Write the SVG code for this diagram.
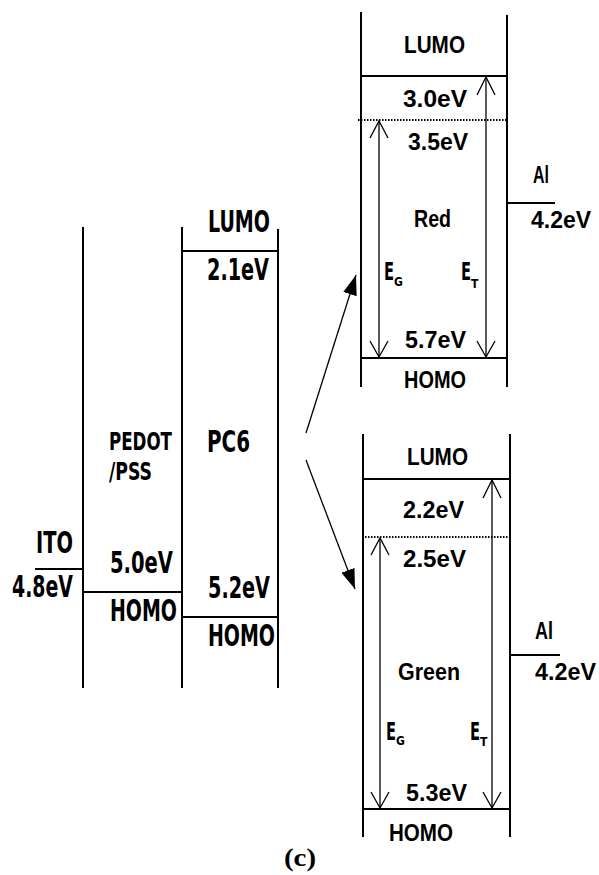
<svg xmlns="http://www.w3.org/2000/svg" width="599" height="875" viewBox="0 0 599 875">
<defs>
<style>
.ln{stroke:#000;stroke-width:2;fill:none}
.lv{stroke:#000;stroke-width:1.3;fill:none}
.dot{stroke:#000;stroke-width:2;stroke-dasharray:1.5 1.5;fill:none}
.tl{font-family:"Liberation Sans Narrow","DejaVu Sans Condensed","Liberation Sans",sans-serif;font-size:30px;font-weight:bold;fill:#000}
.tp{font-family:"Liberation Sans Narrow","DejaVu Sans Condensed","Liberation Sans",sans-serif;font-size:24px;font-weight:bold;fill:#000}
.tr{font-family:"Liberation Sans","DejaVu Sans",sans-serif;font-size:23px;font-weight:bold;fill:#000}
.te{font-family:"Liberation Sans Narrow","DejaVu Sans Condensed","Liberation Sans",sans-serif;font-size:24px;font-weight:bold;fill:#000}
.ts{font-family:"Liberation Sans Narrow","DejaVu Sans Condensed","Liberation Sans",sans-serif;font-size:12px;font-weight:bold;fill:#000}
.cap{font-family:"Liberation Serif",serif;font-size:25px;font-weight:bold;fill:#000}
</style>
<marker id="fa" viewBox="0 0 20 14" refX="20" refY="7" markerWidth="20" markerHeight="14" markerUnits="userSpaceOnUse" orient="auto">
<path d="M0,0 L20,7 L0,14 Z" fill="#000"/>
</marker>
</defs>

<g id="ito">
<line class="ln" x1="35" y1="569" x2="83" y2="569"/>
<text class="tl" x="36" y="553" textLength="37" lengthAdjust="spacingAndGlyphs">ITO</text>
<text class="tl" x="12" y="597" textLength="61" lengthAdjust="spacingAndGlyphs">4.8eV</text>
</g>

<g id="pedot">
<line class="ln" x1="83" y1="227" x2="83" y2="688"/>
<line class="ln" x1="182" y1="227" x2="182" y2="688"/>
<line class="ln" x1="83" y1="592" x2="182" y2="592"/>
<text class="tp" x="109" y="450" textLength="63" lengthAdjust="spacingAndGlyphs">PEDOT</text>
<text class="tp" x="109" y="480" textLength="43" lengthAdjust="spacingAndGlyphs">/PSS</text>
<text class="tl" x="110" y="573" textLength="63" lengthAdjust="spacingAndGlyphs">5.0eV</text>
<text class="tl" x="110" y="621" textLength="67" lengthAdjust="spacingAndGlyphs">HOMO</text>
</g>

<g id="pc6">
<line class="ln" x1="278" y1="229" x2="278" y2="688"/>
<line class="ln" x1="182" y1="251" x2="278" y2="251"/>
<line class="ln" x1="182" y1="617" x2="278" y2="617"/>
<text class="tl" x="208" y="232" textLength="62" lengthAdjust="spacingAndGlyphs">LUMO</text>
<text class="tl" x="207" y="280" textLength="62" lengthAdjust="spacingAndGlyphs">2.1eV</text>
<text class="tl" x="207" y="452" textLength="43" lengthAdjust="spacingAndGlyphs">PC6</text>
<text class="tl" x="208" y="598" textLength="62" lengthAdjust="spacingAndGlyphs">5.2eV</text>
<text class="tl" x="208" y="646" textLength="67" lengthAdjust="spacingAndGlyphs">HOMO</text>
</g>

<g id="red">
<line class="ln" x1="361" y1="12" x2="361" y2="387"/>
<line class="ln" x1="507" y1="15" x2="507" y2="387"/>
<line class="ln" x1="361" y1="76" x2="507" y2="76"/>
<line class="dot" x1="358" y1="120" x2="507" y2="120"/>
<line class="ln" x1="361" y1="358" x2="507" y2="358"/>
<line class="lv" x1="486" y1="77" x2="486" y2="357"/>
<polyline class="lv" points="477,95 486,77 495,95"/>
<polyline class="lv" points="477,341 486,357 495,341"/>
<line class="lv" x1="379" y1="121" x2="379" y2="357"/>
<polyline class="lv" points="370,138 379,121 388,138"/>
<polyline class="lv" points="370,341 379,357 388,341"/>
<text class="tr" x="404" y="53" textLength="61" lengthAdjust="spacingAndGlyphs">LUMO</text>
<text class="tr" x="403" y="107" textLength="64" lengthAdjust="spacingAndGlyphs">3.0eV</text>
<text class="tr" x="408" y="150" textLength="60" lengthAdjust="spacingAndGlyphs">3.5eV</text>
<text class="tr" x="414" y="227" textLength="37" lengthAdjust="spacingAndGlyphs">Red</text>
<text class="te" transform="translate(384,280) scale(0.68,1)">E</text>
<text class="ts" x="394" y="286">G</text>
<text class="te" transform="translate(461,280) scale(0.68,1)">E</text>
<text class="ts" x="471" y="288">T</text>
<text class="tr" x="405" y="348" textLength="61" lengthAdjust="spacingAndGlyphs">5.7eV</text>
<text class="tr" x="404" y="388" textLength="62" lengthAdjust="spacingAndGlyphs">HOMO</text>
</g>

<g id="al-red">
<line class="ln" x1="507" y1="203" x2="555" y2="203"/>
<text class="tr" x="533" y="183" textLength="16" lengthAdjust="spacingAndGlyphs">Al</text>
<text class="tr" x="531" y="228" textLength="60" lengthAdjust="spacingAndGlyphs">4.2eV</text>
</g>

<g id="green">
<line class="ln" x1="363" y1="434" x2="363" y2="837"/>
<line class="ln" x1="510" y1="434" x2="510" y2="837"/>
<line class="ln" x1="363" y1="479" x2="510" y2="479"/>
<line class="dot" x1="362" y1="537" x2="510" y2="537"/>
<line class="ln" x1="363" y1="809" x2="510" y2="809"/>
<line class="lv" x1="492" y1="480" x2="492" y2="808"/>
<polyline class="lv" points="483,498 492,480 501,498"/>
<polyline class="lv" points="483,792 492,808 501,792"/>
<line class="lv" x1="380" y1="538" x2="380" y2="808"/>
<polyline class="lv" points="371,555 380,538 389,555"/>
<polyline class="lv" points="371,792 380,808 389,792"/>
<text class="tr" x="407" y="465" textLength="61" lengthAdjust="spacingAndGlyphs">LUMO</text>
<text class="tr" x="403" y="518" textLength="61" lengthAdjust="spacingAndGlyphs">2.2eV</text>
<text class="tr" x="403" y="567" textLength="63" lengthAdjust="spacingAndGlyphs">2.5eV</text>
<text class="tr" x="398" y="680" textLength="62" lengthAdjust="spacingAndGlyphs">Green</text>
<text class="te" transform="translate(386,740) scale(0.68,1)">E</text>
<text class="ts" x="396" y="745">G</text>
<text class="te" transform="translate(470,740) scale(0.68,1)">E</text>
<text class="ts" x="480" y="746">T</text>
<text class="tr" x="406" y="801" textLength="61" lengthAdjust="spacingAndGlyphs">5.3eV</text>
<text class="tr" x="389" y="841" textLength="64" lengthAdjust="spacingAndGlyphs">HOMO</text>
</g>

<g id="al-green">
<line class="ln" x1="510" y1="655" x2="560" y2="655"/>
<text class="tr" x="535" y="639" textLength="18" lengthAdjust="spacingAndGlyphs">Al</text>
<text class="tr" x="535" y="680" textLength="61" lengthAdjust="spacingAndGlyphs">4.2eV</text>
</g>

<g id="connectors">
<line class="lv" x1="306" y1="433" x2="356" y2="275" marker-end="url(#fa)"/>
<line class="lv" x1="306" y1="460" x2="355" y2="589" marker-end="url(#fa)"/>
</g>

<text class="cap" x="284" y="866" textLength="32" lengthAdjust="spacingAndGlyphs">(c)</text>
</svg>
